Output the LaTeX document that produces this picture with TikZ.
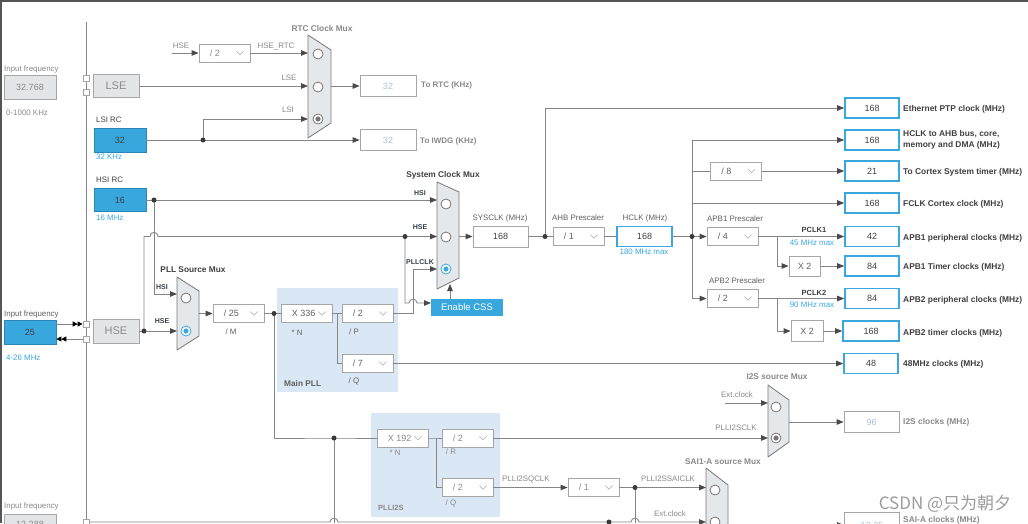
\documentclass[tikz,border=0pt]{standalone}
\usepackage{fontspec}
\setmainfont{Liberation Sans}
\newfontfamily\cjkfont{Noto Sans CJK SC}
\usetikzlibrary{arrows.meta,calc}
\definecolor{wirec}{HTML}{858585}
\definecolor{arrc}{HTML}{4A4A4A}
\definecolor{hsblue}{HTML}{38A7DD}
\definecolor{hsborder}{HTML}{2A86B8}
\definecolor{obblue}{HTML}{3AA8DE}
\definecolor{greyfill}{HTML}{E3E5E7}
\definecolor{greyedge}{HTML}{A6A6A6}
\definecolor{muxfill}{HTML}{E5E8EB}
\definecolor{muxedge}{HTML}{777777}
\definecolor{plbg}{HTML}{DAE8F5}
\definecolor{darktxt}{HTML}{404040}
\definecolor{navytxt}{HTML}{33404F}
\definecolor{graytxt}{HTML}{8A8A8A}
\definecolor{midtxt}{HTML}{606060}
\definecolor{bluetxt}{HTML}{3AA8E0}
\definecolor{dimval}{HTML}{A8C2DA}
\definecolor{ddedge}{HTML}{ABABAB}
\definecolor{dottc}{HTML}{3A3A3A}
\definecolor{framec}{HTML}{555555}
\definecolor{wmgray}{HTML}{9C9C9C}
\newcommand\fsz[1]{\fontsize{#1}{#1}\selectfont}
\tikzset{
 wire/.style={draw=wirec, line width=0.9pt},
 arr/.style={wire, -{Triangle[length=7pt,width=5.5pt,color=arrc]}},
 dbltip/.style={wire, -{Triangle[length=5pt,width=5pt,color=black]Triangle[length=5pt,width=5pt,color=black]}},
 dotn/.style={circle, fill=dottc, inner sep=0pt, minimum size=5pt},
 greybox/.style={rectangle, draw=greyedge, fill=greyfill, line width=0.8pt, inner sep=0pt, text=graytxt},
 bluebox/.style={rectangle, draw=hsborder, fill=hsblue, line width=0.6pt, inner sep=0pt, text=darktxt, font=\fsz{9}},
 outbox/.style={rectangle, draw=obblue, line width=1.6pt, fill=white, inner sep=0pt, minimum width=54pt, minimum height=20pt, text=darktxt, font=\fsz{9}},
 dimbox/.style={rectangle, draw=greyedge, line width=0.8pt, fill=white, inner sep=0pt, minimum width=56pt, minimum height=21pt, text=dimval, font=\fsz{9}},
 plainbox/.style={rectangle, draw=greyedge, line width=0.8pt, fill=white, inner sep=0pt, text=midtxt, font=\fsz{9}},
 ddbox/.style={plainbox, minimum width=51pt, minimum height=18pt},
 sq/.style={rectangle, draw=greyedge, fill=white, line width=0.7pt, minimum size=6pt, inner sep=0pt},
 lab/.style={inner sep=0pt, font=\fsz{7.9}, text=midtxt, text height=5.7pt, text depth=0pt},
 glab/.style={lab, text=graytxt},
 btxt/.style={lab, text=bluetxt},
 blab/.style={inner sep=0pt, font=\fsz{8.4}\bfseries, text=darktxt, anchor=west, text height=6pt, text depth=0pt},
 mlab/.style={inner sep=0pt, font=\fsz{8.3}\bfseries, text=darktxt, text height=6pt, text depth=0pt},
 slab/.style={inner sep=0pt, font=\fsz{7}\bfseries, text=navytxt, text height=5pt, text depth=0pt},
 muxs/.style={draw=muxedge, fill=muxfill, line width=0.8pt, line join=round},
 radio/.style={circle, draw=muxedge, fill=white, line width=0.8pt, minimum size=10pt, inner sep=0pt},
}
\newcommand\ddn[5][midtxt]{%
  \node[ddbox] (#2) at (#3,#4) {};
  \node[inner sep=0pt, anchor=west, font=\fsz{9}, text=#1] (#2-t) at ($(#2.west)+(11,0)$) {#5};
  \draw[ddedge, line width=0.6pt] ($(#2.east)+(-14,-1.8)$) -- ++(3.6,3.6) -- ++(3.6,-3.6);}
\newcommand\muxpoly[6]{\path[muxs] (#1,#2) -- (#4,#5) -- (#4,#6) -- (#1,#3) -- cycle;}
\newcommand\rad[3]{\node[radio] (#1) at (#2,#3) {};}
\newcommand\radsel[4]{\node[radio, draw=#4] (#1) at (#2,#3) {}; \fill[#4] (#1.center) circle (2.6);}
\begin{document}
\begin{tikzpicture}[x=1pt,y=-1pt]
\useasboundingbox (0,0) rectangle (1028,523);
\clip (0,0) rectangle (1028,523);
\fill[white] (0,0) rectangle (1028,523);
\fill[plbg] (277,288) rectangle (398,392);
\fill[plbg] (371,413) rectangle (500,517);
\draw[framec, line width=1.6pt] (0,0.8) -- (1028,0.8) (0.8,0) -- (0.8,523);
\draw[wire] (86,22) -- (86,523);

% ---------- LSE ----------
\node[glab, anchor=west] (lsefq) at (4,69) {Input frequency};
\node[greybox, minimum width=52pt, minimum height=24pt, font=\fsz{9}] (lsein) at (30,87) {32.768};
\node[glab, anchor=west] (lserg) at (6,113) {0-1000 KHz};
\node[sq] (sq1) at (86,78) {};
\node[sq] (sq2) at (86,92) {};
\node[greybox, minimum width=46pt, minimum height=23pt, font=\fsz{11}] (lse) at (116,86) {LSE};

% ---------- RTC ----------
\node[glab] (hselb) at (181,46) {HSE};
\coordinate (hsesrc) at (172,53);
\ddn[graytxt]{hdiv}{224.5}{53}{/ 2}
\node[glab] (hrtclb) at (276,46) {HSE\_RTC};
\node[glab] (lselb) at (289,78) {LSE};
\node[glab] (lsilb) at (288,110) {LSI};
\muxpoly{308}{35}{138}{331}{50}{123}
\node[mlab, text=graytxt] (rtcmuxlb) at (322,28) {RTC Clock Mux};
\rad{rtc1}{318}{54}
\rad{rtc2}{318}{87}
\radsel{rtc3}{318}{119}{muxedge}
\coordinate (rtcin1) at (308,53);
\coordinate (rtcin2) at (308,86);
\coordinate (rtcin3) at (308,119);
\coordinate (rtcout) at (331,86);
\node[dimbox] (rtcbox) at (388,86) {32};
\node[blab, font=\fsz{8}\bfseries, text=graytxt] (rtclb) at (421,84) {To RTC (KHz)};

% ---------- LSI ----------
\node[lab, anchor=west, text=darktxt] (lsirc) at (96,120) {LSI RC};
\node[bluebox, minimum width=52pt, minimum height=24pt] (lsi) at (120,140) {32};
\node[btxt, anchor=west] (lsikhz) at (96,157) {32 KHz};
\coordinate (lsidot) at (203,140);
\node[dimbox] (iwdg) at (388,140) {32};
\node[blab, font=\fsz{8}\bfseries, text=graytxt] (iwdglb) at (420,140) {To IWDG (KHz)};

% ---------- HSI ----------
\node[lab, anchor=west, text=darktxt] (hsirc) at (96,180) {HSI RC};
\node[bluebox, minimum width=52pt, minimum height=23pt] (hsi) at (120,200) {16};
\node[btxt, anchor=west] (hsimhz) at (96,218) {16 MHz};
\coordinate (hsidot) at (154,200);

% ---------- System clock mux ----------
\muxpoly{437}{182}{289}{459}{192}{278}
\node[mlab] (sysmuxlb) at (443,174) {System Clock Mux};
\rad{sm1}{446}{204}
\rad{sm2}{446}{237}
\radsel{sm3}{446}{269}{obblue}
\node[slab] (smhsi) at (420,193) {HSI};
\node[slab] (smhse) at (420,227) {HSE};
\node[slab] (smpll) at (420,262) {PLLCLK};
\coordinate (sysin1) at (437,200);
\coordinate (sysin2) at (437,236.5);
\coordinate (sysin3) at (437,269);
\coordinate (sysout) at (459,236.5);
\coordinate (sysdot2) at (405,236.5);

% ---------- HSE ----------
\node[lab, anchor=west] (hsefq) at (4,314) {Input frequency};
\node[bluebox, minimum width=52pt, minimum height=24pt] (hsein) at (30,332) {25};
\node[btxt, anchor=west] (hserg) at (6,358) {4-26 MHz};
\node[sq] (sq3) at (86,324) {};
\node[sq] (sq4) at (86,339) {};
\node[greybox, minimum width=46pt, minimum height=24pt, font=\fsz{11}] (hse) at (116,331) {HSE};
\coordinate (hsedot) at (144,331);

% ---------- PLL source mux ----------
\muxpoly{177}{277}{350}{199}{291}{336}
\node[mlab] (pllmuxlb) at (193,269) {PLL Source Mux};
\rad{pm1}{186}{298}
\radsel{pm2}{186}{331}{obblue}
\node[slab] (pmhsi) at (162,287) {HSI};
\node[slab] (pmhse) at (162,321) {HSE};
\coordinate (pllin1) at (177,294);
\coordinate (pllin2) at (177,331);
\coordinate (pllout) at (199,313.5);
\ddn{divm}{238.5}{313.5}{/ 25}
\node[lab] (mlb) at (231,332) {/ M};
\coordinate (mdot) at (274,313.5);

% ---------- Main PLL ----------
\ddn{muln}{306.5}{313.5}{X 336}
\node[lab] (nlb) at (297,333) {* N};
\coordinate (pj) at (337,313.5);
\ddn{divp}{367.5}{313.5}{/ 2}
\node[lab] (plb) at (354,332) {/ P};
\ddn{divq}{367.5}{363.5}{/ 7}
\node[lab] (qlb) at (354,381) {/ Q};
\node[mlab, anchor=west, text=midtxt] (mainpll) at (284,383) {Main PLL};

% ---------- CSS ----------
\node[rectangle, fill=hsblue, minimum width=72pt, minimum height=17pt, inner sep=0pt, text=white, font=\fsz{9.5}] (css) at (467,307.5) {Enable CSS};
\coordinate (cssin) at (431,303);
\coordinate (cssup) at (450,299);
\coordinate (muxbot) at (450,284);

% ---------- SYSCLK / AHB ----------
\node[lab] (sysclklb) at (500,218) {SYSCLK (MHz)};
\node[plainbox, text=darktxt, minimum width=55pt, minimum height=21pt] (sysclk) at (500.5,236.5) {168};
\coordinate (sysdot) at (545,236.5);
\node[lab, anchor=west] (ahblb) at (552,218) {AHB Prescaler};
\ddn{ahb}{578.5}{236.5}{/ 1}
\node[lab] (hclklb) at (645,218) {HCLK (MHz)};
\node[outbox, minimum width=55pt] (hclk) at (644.5,236.5) {168};
\node[btxt] (hmax) at (644,252) {180 MHz max};
\coordinate (hdot) at (692,236.5);

% ---------- bus prescalers ----------
\coordinate (vtop) at (692,140);
\coordinate (vbot) at (692,298.5);
\ddn{div8}{736}{171}{/ 8}
\node[lab, anchor=west] (apb1lb) at (707,219) {APB1 Prescaler};
\ddn{apb1}{732.5}{236.5}{/ 4}
\node[lab, anchor=west] (apb2lb) at (709,281) {APB2 Prescaler};
\ddn{apb2}{732.5}{298.5}{/ 2}
\coordinate (b1) at (777,236.5);
\coordinate (b2) at (777,298.5);
\node[plainbox, minimum width=31pt, minimum height=20pt] (x2a) at (804.5,266) {X 2};
\node[plainbox, minimum width=32pt, minimum height=21pt] (x2b) at (807,331) {X 2};
\node[mlab, font=\fsz{7.5}\bfseries] (pclk1) at (814,229) {PCLK1};
\node[btxt] (p1max) at (812,243) {45 MHz max};
\node[mlab, font=\fsz{7.5}\bfseries] (pclk2) at (814,292) {PCLK2};
\node[btxt] (p2max) at (812,305) {90 MHz max};

% ---------- outputs ----------
\node[outbox] (eth) at (872,108) {168};
\node[outbox] (ahbo) at (872,140) {168};
\node[outbox] (stk) at (872,171) {21};
\node[outbox] (fclk) at (872,203) {168};
\node[outbox] (p1) at (872,236.5) {42};
\node[outbox] (t1) at (872,266) {84};
\node[outbox] (p2) at (872,298.5) {84};
\node[outbox, minimum width=56pt] (t2) at (871,331) {168};
\node[outbox] (c48) at (871,363.5) {48};
\node[blab] (ethlb) at (903,108) {Ethernet PTP clock (MHz)};
\node[blab] (ahbl1) at (903,133) {HCLK to AHB bus, core,};
\node[blab] (ahbl2) at (903,144.5) {memory and DMA (MHz)};
\node[blab] (stklb) at (903,171) {To Cortex System timer (MHz)};
\node[blab] (fclklb) at (903,203) {FCLK Cortex clock (MHz)};
\node[blab] (p1lb) at (903,237) {APB1 peripheral clocks (MHz)};
\node[blab] (t1lb) at (903,266) {APB1 Timer clocks (MHz)};
\node[blab] (p2lb) at (903,299) {APB2 peripheral clocks (MHz)};
\node[blab] (t2lb) at (903,332) {APB2 timer clocks (MHz)};
\node[blab] (c48lb) at (903,363) {48MHz clocks (MHz)};

% ---------- I2S ----------
\node[mlab, text=graytxt] (i2smuxlb) at (777,376) {I2S source Mux};
\muxpoly{768}{385}{457}{789}{400}{442}
\rad{im1}{776}{407}
\radsel{im2}{776}{438}{muxedge}
\node[glab] (extlb1) at (737,395) {Ext.clock};
\coordinate (ext1) at (725,403);
\coordinate (i2sin1) at (768,403);
\node[glab] (pi2slb) at (736,428) {PLLI2SCLK};
\coordinate (i2sin2) at (768,438);
\coordinate (i2sout) at (789,422);
\node[dimbox, minimum width=55pt] (i2sbox) at (871.5,422) {96};
\node[blab, text=graytxt] (i2slb) at (903,421) {I2S clocks (MHz)};

% ---------- PLLI2S ----------
\coordinate (n2dot) at (334,438);
\ddn[graytxt]{muln2}{402.5}{438}{X 192}
\node[glab] (n2lb) at (395,453) {* N};
\coordinate (qj) at (436,438);
\ddn[graytxt]{divr}{467.5}{438}{/ 2}
\node[glab] (rlb) at (451,452) {/ R};
\ddn[graytxt]{divq2}{467.5}{487.5}{/ 2}
\node[glab] (q2lb) at (451,503) {/ Q};
\node[glab, anchor=west, font=\fsz{7.5}\bfseries] (plli2slb) at (378,508) {PLLI2S};

% ---------- SAI ----------
\node[glab, anchor=west] (qclklb) at (502,479) {PLLI2SQCLK};
\ddn[graytxt]{div1}{593.5}{487.5}{/ 1}
\coordinate (saidot) at (635,487.5);
\node[glab] (saiclklb) at (668,479) {PLLI2SSAICLK};
\node[mlab, text=graytxt] (saimuxlb) at (723,461) {SAI1-A source Mux};
\muxpoly{706}{468}{600}{728}{485}{585}
\rad{sa1}{715}{490}
\rad{sa2}{715}{522}
\node[glab] (extlb2) at (670,514) {Ext.clock};
\coordinate (saiin1) at (706,487.5);
\coordinate (saiin2) at (706,522);
\coordinate (botdot) at (609,522);
\node[sq] (sq5) at (86,522) {};
\coordinate (saiout) at (728,525);
\node[dimbox, minimum width=55pt, minimum height=26pt] (saibox) at (872,525) {12.25};
\node[blab, text=graytxt] (sailb) at (903,519.5) {SAI-A clocks (MHz)};
\node[glab, anchor=west] (saifq) at (4,506) {Input frequency};
\node[greybox, minimum width=52pt, minimum height=20pt, font=\fsz{9}] (saiin) at (30,524) {12.288};

% ---------- watermark ----------
\node[inner sep=0pt, font=\cjkfont\fsz{17}, text=wmgray] (wm) at (945,504) {CSDN @只为朝夕};

% ---------- connectors ----------
\draw[dbltip] (hsein.east |- sq3) -- (sq3.west);
\draw[dbltip] (sq4.west) -- (hsein.east |- sq4);
\draw[arr] (hsesrc) -- (hdiv.west);
\draw[arr] (hdiv.east) -- (rtcin1);
\draw[arr] (lse.east) -- (rtcin2);
\draw[wire] (lsi.east) -- (lsidot);
\draw[arr] (lsidot) -- (iwdg.west);
\draw[arr] (lsidot) |- (rtcin3);
\draw[arr] (rtcout) -- (rtcbox.west);
\draw[wire] (hsi.east) -- (hsidot);
\draw[arr] (hsidot) -- (sysin1);
\draw[arr] (hsidot) |- (pllin1);
\draw[wire] (hse.east) -- (hsedot);
\draw[arr] (hsedot) -- (pllin2);
\draw[wire] (hsedot) -- (144,236.5) -- (150,236.5) .. controls (150,231) and (158,231) .. (158,236.5) -- (sysdot2);
\draw[arr] (sysdot2) -- (sysin2);
\draw[arr] (sysdot2) -- (405,303) -- (409,303) .. controls (409,298) and (417,298) .. (417,303) -- (cssin);
\draw[arr] (divp.east) -- (413,313.5) -- (413,269) -- (sysin3);
\draw[arr] (cssup) -- (muxbot);
\draw[arr] (sysout) -- (sysclk.west);
\draw[wire] (sysclk.east) -- (sysdot) -- (ahb.west);
\draw[arr] (sysdot) |- (eth.west);
\draw[wire] (ahb.east) -- (hclk.west);
\draw[wire] (hclk.east) -- (hdot);
\draw[arr] (hdot) -- (apb1.west);
\draw[wire] (vtop) -- (vbot);
\draw[arr] (vtop) -- (ahbo.west);
\draw[wire] (vtop |- div8) -- (div8.west);
\draw[arr] (div8.east) -- (stk.west);
\draw[arr] (vtop |- fclk) -- (fclk.west);
\draw[arr] (vbot) -- (apb2.west);
\draw[arr] (apb1.east) -- (p1.west);
\draw[arr] (b1) |- (x2a.west);
\draw[arr] (x2a.east) -- (t1.west);
\draw[arr] (apb2.east) -- (p2.west);
\draw[arr] (b2) |- (x2b.west);
\draw[arr] (x2b.east) -- (t2.west);
\draw[arr] (pllout) -- (divm.west);
\draw[wire] (divm.east) -- (mdot) -- (muln.west);
\draw[wire] (muln.east) -- (pj) -- (divp.west);
\draw[wire] (pj) |- (divq.west);
\draw[arr] (divq.east) -- (c48.west);
\draw[wire] (mdot) |- (n2dot) -- (muln2.west);
\draw[wire] (n2dot) -- (334,523);
\draw[wire] (muln2.east) -- (qj) -- (divr.west);
\draw[wire] (qj) |- (divq2.west);
\draw[arr] (divr.east) -- (i2sin2);
\draw[arr] (ext1) -- (i2sin1);
\draw[arr] (i2sout) -- (i2sbox.west);
\draw[arr] (divq2.east) -- (div1.west);
\draw[wire] (div1.east) -- (saidot);
\draw[arr] (saidot) -- (saiin1);
\draw[wire] (saidot) -- (635,523);
\draw[arr] (sq5.east) -- (330,522) .. controls (330,517) and (338,517) .. (338,522) -- (631,522) .. controls (631,517) and (639,517) .. (639,522) -- (saiin2);
\draw[arr] (saiout) -- (saibox.west);

% ---------- junction dots ----------
\foreach \p [count=\i] in {lsidot,hsidot,hsedot,sysdot2,mdot,sysdot,hdot,n2dot,saidot,botdot}
  \node[dotn] (jd\i) at (\p) {};
\end{tikzpicture}
\end{document}
